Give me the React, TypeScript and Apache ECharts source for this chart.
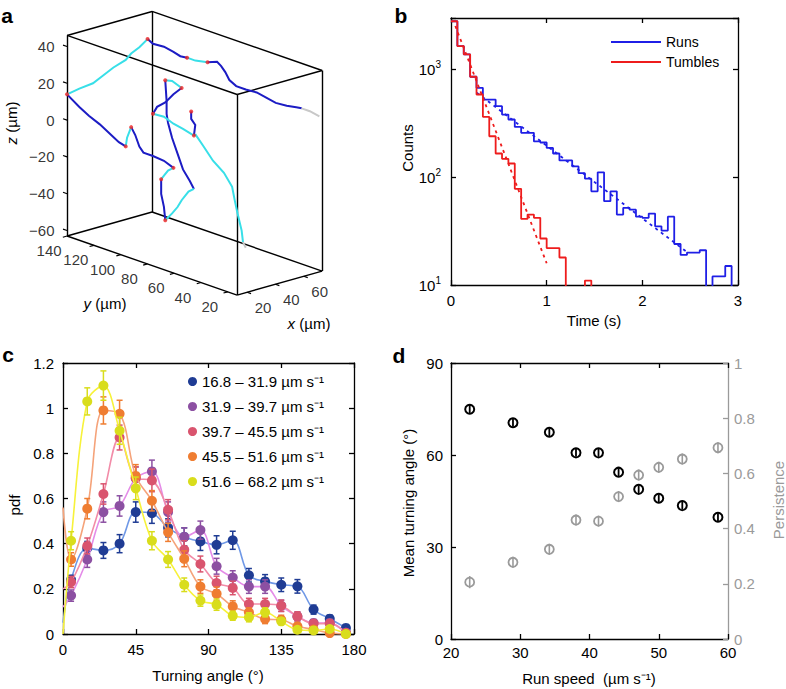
import React, { useEffect, useRef } from 'react';
import * as echarts from 'echarts';

const FONT = '"Liberation Sans", Arial, Helvetica, sans-serif';

// ---------------- Panel a: 3D trajectories (µm) ----------------
type P3 = [number, number, number];
const BOX_X = [13, 73];
const BOX_Y = [13, 140];
const BOX_Z = [-63, 46];
const Z_TICKS = [-60, -40, -20, 0, 20, 40];
const Y_TICKS = [20, 40, 60, 80, 100, 120, 140];
const X_TICKS = [20, 40, 60];

const RUN_DARK: P3[][] = [
  [[32, 100, 50], [33, 97, 48], [36, 92, 47], [38, 87, 45], [40, 84, 43], [41, 80, 43]],
  [[46, 70, 42], [48, 65, 43], [49, 63, 41], [50, 61, 38], [51, 59, 34], [53, 56, 31], [55, 51, 30], [58, 46, 29], [60, 41, 27], [62, 36, 25], [65, 31, 24], [67, 26, 24], [68, 23, 24]],
  [[13, 140, 14], [16, 134, 8], [18, 129, 4], [21, 124, 0], [23, 119, -4], [25, 114, -8], [27, 111, -10]],
  [[28, 108, 1], [29, 106, -3], [30, 104, -9], [31, 102, -12], [33, 97, -13], [36, 92, -15], [38, 87, -18]],
  [[35, 93, -25], [35, 93, -33], [36, 92, -40], [36, 91, -47]],
  [[43, 77, -28], [42, 79, -24], [40, 82, -18], [39, 85, -10], [38, 88, -2], [37, 90, 6], [36, 90, 11], [36, 90, 18], [36, 91, 29]],
  [[40, 83, 26], [38, 87, 22], [36, 91, 17], [34, 95, 14], [33, 97, 10]],
  [[42, 78, 14], [42, 78, 10], [43, 76, 7], [43, 77, 1]],
];
const RUN_CYAN: P3[][] = [
  [[13, 140, 14], [16, 134, 18], [19, 127, 22], [21, 123, 26], [24, 117, 32], [27, 111, 37], [28, 108, 41], [30, 104, 45], [32, 100, 50]],
  [[41, 80, 43], [43, 76, 42], [46, 70, 42]],
  [[27, 111, -10], [27, 110, -5], [28, 108, 1]],
  [[38, 87, -18], [37, 90, -20], [35, 93, -25]],
  [[36, 91, -47], [38, 88, -43], [39, 85, -39], [40, 83, -35], [42, 80, -30], [43, 77, -28]],
  [[36, 91, 29], [38, 88, 29], [40, 83, 26]],
  [[33, 97, 10], [36, 92, 9], [38, 87, 6], [40, 82, 4], [43, 77, 1]],
  [[43, 76, 2], [45, 72, -4], [47, 67, -11], [50, 62, -17], [52, 58, -24], [52, 56, -31], [53, 55, -38], [54, 53, -47], [54, 52, -53]],
];
const TRACK_END: P3[][] = [
  [[68, 23, 24], [70, 19, 23], [72, 14, 21]],
  [[54, 52, -53], [55, 51, -56]],
];
const TUMBLES: P3[] = [
  [13, 140, 14], [32, 100, 50], [41, 80, 43], [46, 70, 42], [27, 111, -10], [28, 108, 1], [38, 87, -18],
  [35, 93, -25], [36, 91, -47], [36, 91, 29], [40, 83, 26], [33, 97, 10], [43, 77, 1], [42, 78, 14],
];

// ---------------- Panel b: duration histograms ----------------
const BIN_WIDTH = 1 / 15; // s
const RUN_COUNTS = [2800, 1648, 1380, 855, 675, 525, 525, 456, 381, 343, 293, 258, 258, 215, 210, 187, 166, 143, 143, 126, 109, 97, 74, 111, 60, 74, 45, 52, 50, 43, 42, 46, 35, 32, 43, 24, 19, 20, 20, 21, 0, 12, 12, 15];
const TUMBLE_COUNTS = [2800, 1648, 1380, 855, 585, 363, 240, 166, 148, 134, 78, 41, 45, 42, 27, 22, 22, 18, 0, 0, 0, 11];
const RUN_FIT: [number, number][] = [[0.27, 607], [2.46, 20.4]];
const TUMBLE_FIT: [number, number][] = [[0.045, 2530], [1.0, 15.9]];

// ---------------- Panel c: turning angle pdf ----------------
const SPEED_BINS = [
  '16.8 – 31.9 µm s⁻¹',
  '31.9 – 39.7 µm s⁻¹',
  '39.7 – 45.5 µm s⁻¹',
  '45.5 – 51.6 µm s⁻¹',
  '51.6 – 68.2 µm s⁻¹',
];
const ANGLES = [5, 15, 25, 35, 45, 55, 65, 75, 85, 95, 105, 115, 125, 135, 145, 155, 165, 175];
const PDF_AT_ZERO = [0.05, 0.12, 0.2, 0.56, 0.0];
const PDF = [
  [0.24, 0.38, 0.37, 0.40, 0.54, 0.535, 0.47, 0.43, 0.41, 0.395, 0.415, 0.26, 0.233, 0.218, 0.211, 0.108, 0.068, 0.027],
  [0.17, 0.33, 0.54, 0.567, 0.69, 0.72, 0.54, 0.43, 0.46, 0.30, 0.25, 0.21, 0.21, 0.125, 0.078, 0.049, 0.049, 0.005],
  [0.23, 0.39, 0.62, 0.87, 0.69, 0.68, 0.55, 0.373, 0.31, 0.226, 0.204, 0.133, 0.133, 0.125, 0.078, 0.046, 0.046, 0.005],
  [0.33, 0.555, 0.99, 0.975, 0.70, 0.59, 0.45, 0.333, 0.21, 0.178, 0.122, 0.096, 0.066, 0.063, 0.034, 0.02, 0.004, 0.0],
  [0.413, 1.03, 1.10, 0.90, 0.645, 0.413, 0.33, 0.218, 0.148, 0.13, 0.081, 0.074, 0.096, 0.056, 0.019, 0.016, 0.022, 0.0],
];
const PDF_ERR = [
  [0.02, 0.03, 0.035, 0.04, 0.045, 0.045, 0.04, 0.04, 0.04, 0.04, 0.04, 0.03, 0.03, 0.03, 0.03, 0.02, 0.015, 0.01],
  [0.025, 0.035, 0.045, 0.045, 0.05, 0.05, 0.045, 0.04, 0.04, 0.035, 0.03, 0.03, 0.03, 0.025, 0.02, 0.015, 0.015, 0.01],
  [0.025, 0.035, 0.045, 0.055, 0.05, 0.05, 0.045, 0.04, 0.035, 0.03, 0.03, 0.025, 0.025, 0.025, 0.02, 0.015, 0.015, 0.01],
  [0.03, 0.045, 0.06, 0.06, 0.05, 0.045, 0.04, 0.035, 0.03, 0.03, 0.025, 0.02, 0.02, 0.02, 0.015, 0.01, 0.01, 0.005],
  [0.04, 0.06, 0.065, 0.06, 0.05, 0.04, 0.035, 0.03, 0.025, 0.025, 0.02, 0.02, 0.02, 0.015, 0.01, 0.01, 0.01, 0.005],
];
const MARKER_COLORS = ['#1f3c94', '#8c50a2', '#d9546e', '#ef7d31', '#d9dd1c'];
const LINE_COLORS = ['#6f98e6', '#e48ce8', '#f28ca8', '#f5a37a', '#f7f23a'];

// ---------------- Panel d ----------------
const RUN_SPEED = [22.7, 28.95, 34.2, 38.05, 41.3, 44.2, 47.1, 50.0, 53.4, 58.55];
const MEAN_ANGLE = [74.9, 70.5, 67.4, 60.7, 60.7, 54.4, 48.8, 45.9, 43.5, 39.7];
const MEAN_ANGLE_ERR = [1.4, 1.3, 1.3, 1.3, 1.3, 1.3, 1.3, 1.3, 1.3, 1.3];
const PERSISTENCE = [0.206, 0.278, 0.325, 0.431, 0.427, 0.516, 0.594, 0.622, 0.652, 0.693];
const PERSISTENCE_ERR = [0.022, 0.02, 0.02, 0.02, 0.02, 0.02, 0.02, 0.02, 0.02, 0.02];

// view projection of panel a (screen px per µm)
const VIEW = { xh: 1.417, yh: -1.339, xv: 0.4, yv: 0.465, zv: 1.84 };
function proj(p: P3): [number, number] {
  return [VIEW.xh * p[0] + VIEW.yh * p[1], VIEW.xv * p[0] + VIEW.yv * p[1] + VIEW.zv * p[2]];
}

const AXIS_COLOR = '#000';
const GRAY = '#9a9a9a';

function axisCommon(color = AXIS_COLOR) {
  return {
    axisLine: { show: true, onZero: false, lineStyle: { color, width: 1.3 } },
    axisTick: { show: true, inside: true, length: 5, lineStyle: { color, width: 1.3 } },
    splitLine: { show: false },
  };
}
const labelStyle = (margin: number, color = '#000') => ({
  show: true, fontSize: 15, fontFamily: FONT, color, margin,
});

function errRender(color: string, capHalf: number, width: number) {
  return (params: any, api: any) => {
    const x = api.value(0);
    const lo = api.value(1);
    const hi = api.value(2);
    const a = api.coord([x, lo]);
    const b = api.coord([x, hi]);
    const st = { stroke: color, lineWidth: width };
    const children: any[] = [
      { type: 'line', shape: { x1: a[0], y1: a[1], x2: b[0], y2: b[1] }, style: st },
    ];
    if (capHalf > 0) {
      children.push({ type: 'line', shape: { x1: a[0] - capHalf, y1: a[1], x2: a[0] + capHalf, y2: a[1] }, style: st });
      children.push({ type: 'line', shape: { x1: b[0] - capHalf, y1: b[1], x2: b[0] + capHalf, y2: b[1] }, style: st });
    }
    return { type: 'group', children };
  };
}

function stairs(counts: number[]): [number, number][] {
  const FLOOR = 1;
  const d: [number, number][] = counts.map((v, k) => [k * BIN_WIDTH, v > 0 ? v : FLOOR]);
  d.push([counts.length * BIN_WIDTH, FLOOR]);
  return d;
}

function text(x: number, y: number, t: string, opts: any = {}) {
  const fontSize = opts.fontSize || 15;
  return {
    type: 'text',
    x, y,
    rotation: opts.rotation || 0,
    silent: true,
    style: {
      text: t,
      fontSize,
      fontFamily: FONT,
      fontWeight: opts.fontWeight || 'normal',
      fill: opts.color || '#000',
      align: 'center', verticalAlign: 'middle',
      textAlign: 'center', textVerticalAlign: 'middle',
      rich: opts.rich,
    },
  };
}

function buildOption() {
  // ----- panel a geometry -----
  const corners: P3[] = [];
  for (const x of BOX_X) for (const y of BOX_Y) for (const z of BOX_Z) corners.push([x, y, z]);
  const edges: any[] = [];
  for (let i = 0; i < corners.length; i++) {
    for (let j = i + 1; j < corners.length; j++) {
      let diff = 0;
      for (let k = 0; k < 3; k++) if (corners[i][k] !== corners[j][k]) diff++;
      if (diff === 1) edges.push({ coords: [proj(corners[i]), proj(corners[j])] });
    }
  }
  const ticks: any[] = [];
  Z_TICKS.forEach((z) => ticks.push({ coords: [proj([BOX_X[0], BOX_Y[1], z]), proj([BOX_X[0], BOX_Y[1] + 3, z])] }));
  Y_TICKS.forEach((y) => ticks.push({ coords: [proj([BOX_X[0], y, BOX_Z[0]]), proj([BOX_X[0] - 3, y, BOX_Z[0]])] }));
  X_TICKS.forEach((x) => ticks.push({ coords: [proj([x, BOX_Y[0], BOX_Z[0]]), proj([x, BOX_Y[0] - 3, BOX_Z[0]])] }));

  const tracks: any[] = [];
  RUN_DARK.forEach((s) => tracks.push({ coords: s.map(proj), lineStyle: { color: '#1c1cc4' } }));
  RUN_CYAN.forEach((s) => tracks.push({ coords: s.map(proj), lineStyle: { color: '#38dfe8' } }));
  TRACK_END.forEach((s) => tracks.push({ coords: s.map(proj), lineStyle: { color: '#c8c8c8' } }));

  const tickLabel = (pos: any, offset?: number[], distance?: number) => ({
    type: 'scatter', xAxisIndex: 0, yAxisIndex: 0, symbolSize: 1, silent: true,
    itemStyle: { color: 'rgba(0,0,0,0)' },
    label: {
      show: true, formatter: '{b}', fontSize: 15, fontFamily: FONT, color: '#000',
      position: pos, offset, distance,
    },
  });

  const series: any[] = [
    {
      type: 'lines', coordinateSystem: 'cartesian2d', xAxisIndex: 0, yAxisIndex: 0, silent: true,
      lineStyle: { color: '#000', width: 1.4, opacity: 1, curveness: 0 }, data: edges,
    },
    {
      type: 'lines', coordinateSystem: 'cartesian2d', xAxisIndex: 0, yAxisIndex: 0, silent: true,
      lineStyle: { color: '#000', width: 1.2, opacity: 1, curveness: 0 }, data: ticks,
    },
    {
      type: 'lines', coordinateSystem: 'cartesian2d', xAxisIndex: 0, yAxisIndex: 0, silent: true,
      polyline: true, lineStyle: { width: 2, opacity: 1, curveness: 0 }, data: tracks,
    },
    {
      type: 'scatter', xAxisIndex: 0, yAxisIndex: 0, silent: true, symbolSize: 4,
      itemStyle: { color: '#ee2222' }, data: TUMBLES.map(proj),
    },
    {
      ...tickLabel('left', undefined, 12),
      data: Z_TICKS.map((z) => ({ name: z < 0 ? '−' + Math.abs(z) : String(z), value: proj([BOX_X[0], BOX_Y[1], z]) })),
    },
    {
      ...tickLabel('inside', [-18, 14.5]),
      data: Y_TICKS.map((y) => ({ name: String(y), value: proj([BOX_X[0], y, BOX_Z[0]]) })),
    },
    {
      ...tickLabel('inside', [16, 15]),
      data: X_TICKS.map((x) => ({ name: String(x), value: proj([x, BOX_Y[0], BOX_Z[0]]) })),
    },
  ];

  // ----- panel b -----
  series.push(
    {
      name: 'Runs', type: 'line', xAxisIndex: 1, yAxisIndex: 1, step: 'end', symbol: 'none',
      lineStyle: { color: '#1f1fe6', width: 1.8 }, itemStyle: { color: '#1f1fe6' }, data: stairs(RUN_COUNTS),
    },
    {
      name: 'Runs fit', type: 'line', xAxisIndex: 1, yAxisIndex: 1, symbol: 'none',
      lineStyle: { color: '#1f1fe6', width: 1.8, type: [3, 4] }, data: RUN_FIT,
    },
    {
      name: 'Tumbles', type: 'line', xAxisIndex: 1, yAxisIndex: 1, step: 'end', symbol: 'none',
      lineStyle: { color: '#ee1c1c', width: 1.8 }, itemStyle: { color: '#ee1c1c' }, data: stairs(TUMBLE_COUNTS),
    },
    {
      name: 'Tumbles fit', type: 'line', xAxisIndex: 1, yAxisIndex: 1, symbol: 'none',
      lineStyle: { color: '#ee1c1c', width: 1.8, type: [3, 4] }, data: TUMBLE_FIT,
    },
  );

  // ----- panel c -----
  PDF.forEach((vals, i) => {
    series.push({
      name: 'curve ' + i, type: 'line', xAxisIndex: 3, yAxisIndex: 3, smooth: 0.35, symbol: 'none',
      lineStyle: { color: LINE_COLORS[i], width: 1.6 }, z: 2 + i * 3,
      data: [[0, PDF_AT_ZERO[i]], ...ANGLES.map((a, k) => [a, vals[k]])],
    });
    series.push({
      type: 'custom', xAxisIndex: 3, yAxisIndex: 3, silent: true, z: 3 + i * 3,
      renderItem: errRender(MARKER_COLORS[i], 3, 1.5),
      encode: { x: 0, y: [1, 2] },
      data: ANGLES.map((a, k) => [a, vals[k] - PDF_ERR[i][k], vals[k] + PDF_ERR[i][k]]),
    });
    series.push({
      name: SPEED_BINS[i], type: 'scatter', xAxisIndex: 3, yAxisIndex: 3, symbolSize: 10, z: 4 + i * 3,
      itemStyle: { color: MARKER_COLORS[i], opacity: 1 },
      data: ANGLES.map((a, k) => [a, vals[k]]),
    });
  });

  // ----- panel d -----
  series.push(
    {
      type: 'custom', xAxisIndex: 5, yAxisIndex: 6, silent: true, z: 3,
      renderItem: errRender(GRAY, 0, 1.6), encode: { x: 0, y: [1, 2] },
      data: RUN_SPEED.map((s, k) => [s, PERSISTENCE[k] - PERSISTENCE_ERR[k], PERSISTENCE[k] + PERSISTENCE_ERR[k]]),
    },
    {
      name: 'Persistence', type: 'scatter', xAxisIndex: 5, yAxisIndex: 6, symbolSize: 9, z: 4,
      itemStyle: { color: 'rgba(255,255,255,0)', borderColor: GRAY, borderWidth: 1.8, opacity: 1 },
      data: RUN_SPEED.map((s, k) => [s, PERSISTENCE[k]]),
    },
    {
      type: 'custom', xAxisIndex: 5, yAxisIndex: 5, silent: true, z: 5,
      renderItem: errRender('#000', 0, 1.8), encode: { x: 0, y: [1, 2] },
      data: RUN_SPEED.map((s, k) => [s, MEAN_ANGLE[k] - MEAN_ANGLE_ERR[k], MEAN_ANGLE[k] + MEAN_ANGLE_ERR[k]]),
    },
    {
      name: 'Mean turning angle', type: 'scatter', xAxisIndex: 5, yAxisIndex: 5, symbolSize: 9, z: 6,
      itemStyle: { color: 'rgba(255,255,255,0)', borderColor: '#000', borderWidth: 2, opacity: 1 },
      data: RUN_SPEED.map((s, k) => [s, MEAN_ANGLE[k]]),
    },
  );

  const logFormatter = (v: number) => {
    const e = Math.log10(v);
    const r = Math.round(e);
    if (Math.abs(e - r) > 1e-6) return '';
    return `{b|10}{s|${r}}`;
  };

  const grid = [
    { left: 20, top: 0, width: 320, height: 330, outerBoundsMode: 'none', containLabel: false },
    { left: 451, top: 18, width: 287, height: 267, outerBoundsMode: 'none', containLabel: false },
    { left: 63, top: 363, width: 291, height: 271, outerBoundsMode: 'none', containLabel: false },
    { left: 451, top: 363, width: 277, height: 276, outerBoundsMode: 'none', containLabel: false },
  ];

  const xAxis: any[] = [
    { type: 'value', gridIndex: 0, min: -216.1, max: 103.9, show: false },
    { type: 'value', gridIndex: 1, min: 0, max: 3, interval: 1, position: 'bottom', ...axisCommon(), axisLabel: labelStyle(8) },
    { type: 'value', gridIndex: 1, min: 0, max: 3, interval: 1, position: 'top', ...axisCommon(), axisLabel: { show: false } },
    { type: 'value', gridIndex: 2, min: 0, max: 180, interval: 45, position: 'bottom', ...axisCommon(), axisLabel: labelStyle(8) },
    { type: 'value', gridIndex: 2, min: 0, max: 180, interval: 45, position: 'top', ...axisCommon(), axisLabel: { show: false } },
    { type: 'value', gridIndex: 3, min: 20, max: 60, interval: 10, position: 'bottom', ...axisCommon(), axisLabel: labelStyle(6) },
    { type: 'value', gridIndex: 3, min: 20, max: 60, interval: 10, position: 'top', ...axisCommon(), axisLabel: { show: false } },
  ];
  const yAxis: any[] = [
    { type: 'value', gridIndex: 0, min: -139.6, max: 190.4, show: false },
    {
      type: 'log', logBase: 10, gridIndex: 1, min: 10, max: 3000, position: 'left', ...axisCommon(),
      axisLabel: {
        show: true, margin: 10, formatter: logFormatter,
        rich: {
          b: { fontSize: 15, fontFamily: FONT, color: '#000', lineHeight: 20 },
          s: { fontSize: 10, fontFamily: FONT, color: '#000', lineHeight: 12, verticalAlign: 'top' },
        },
      },
      minorTick: { show: false },
    },
    { type: 'log', logBase: 10, gridIndex: 1, min: 10, max: 3000, position: 'right', ...axisCommon(), axisLabel: { show: false } },
    { type: 'value', gridIndex: 2, min: 0, max: 1.2, interval: 0.2, position: 'left', ...axisCommon(), axisLabel: labelStyle(9) },
    { type: 'value', gridIndex: 2, min: 0, max: 1.2, interval: 0.2, position: 'right', ...axisCommon(), axisLabel: { show: false } },
    { type: 'value', gridIndex: 3, min: 0, max: 90, interval: 30, position: 'left', ...axisCommon(), axisLabel: labelStyle(8) },
    { type: 'value', gridIndex: 3, min: 0, max: 1, interval: 0.2, position: 'right', ...axisCommon(GRAY), axisLabel: labelStyle(6, GRAY) },
  ];

  const legend = [
    {
      data: ['Runs', 'Tumbles'], left: 606, top: 30, orient: 'vertical', icon: 'rect', itemWidth: 50, itemHeight: 2, itemGap: 6,
      selectedMode: false, textStyle: { fontSize: 14, fontFamily: FONT, color: '#000' },
    },
    {
      data: SPEED_BINS, left: 183, top: 369, orient: 'vertical', icon: 'circle', itemWidth: 9, itemHeight: 9, itemGap: 10,
      selectedMode: false, textStyle: { fontSize: 15, fontFamily: FONT, color: '#000' },
    },
  ];

  const italic = { i: { fontStyle: 'italic', fontSize: 15, fontFamily: FONT, fill: '#000' } };
  const graphic = {
    elements: [
      text(7, 15, 'a', { fontSize: 21, fontWeight: 'bold' }),
      text(401, 15, 'b', { fontSize: 21, fontWeight: 'bold' }),
      text(8, 354, 'c', { fontSize: 21, fontWeight: 'bold' }),
      text(399, 355, 'd', { fontSize: 21, fontWeight: 'bold' }),
      text(11, 123, '{i|z} (µm)', { rotation: Math.PI / 2, rich: italic }),
      text(105, 303, '{i|y} (µm)', { rich: italic }),
      text(309, 323, '{i|x} (µm)', { rich: italic }),
      text(407, 148, 'Counts', { rotation: Math.PI / 2 }),
      text(594, 320, 'Time (s)'),
      text(14, 505, 'pdf', { rotation: Math.PI / 2 }),
      text(208, 675, 'Turning angle (°)'),
      text(408, 503, 'Mean turning angle (°)', { rotation: Math.PI / 2 }),
      text(778, 500, 'Persistence', { rotation: Math.PI / 2, color: GRAY }),
      text(589, 678, 'Run speed  (µm s⁻¹)'),
    ],
  };

  return {
    animation: false,
    backgroundColor: '#fff',
    textStyle: { fontFamily: FONT },
    grid, xAxis, yAxis, legend, graphic, series,
  };
}

export default function App() {
  const ref = useRef<HTMLDivElement>(null);
  useEffect(() => {
    if (!ref.current) return;
    const chart = echarts.init(ref.current, undefined, { renderer: 'svg' });
    chart.setOption(buildOption() as any);
    return () => chart.dispose();
  }, []);
  return (
    <div
      ref={ref}
      style={{ position: 'fixed', left: 0, top: 0, width: 786, height: 689, background: '#fff' }}
    />
  );
}
